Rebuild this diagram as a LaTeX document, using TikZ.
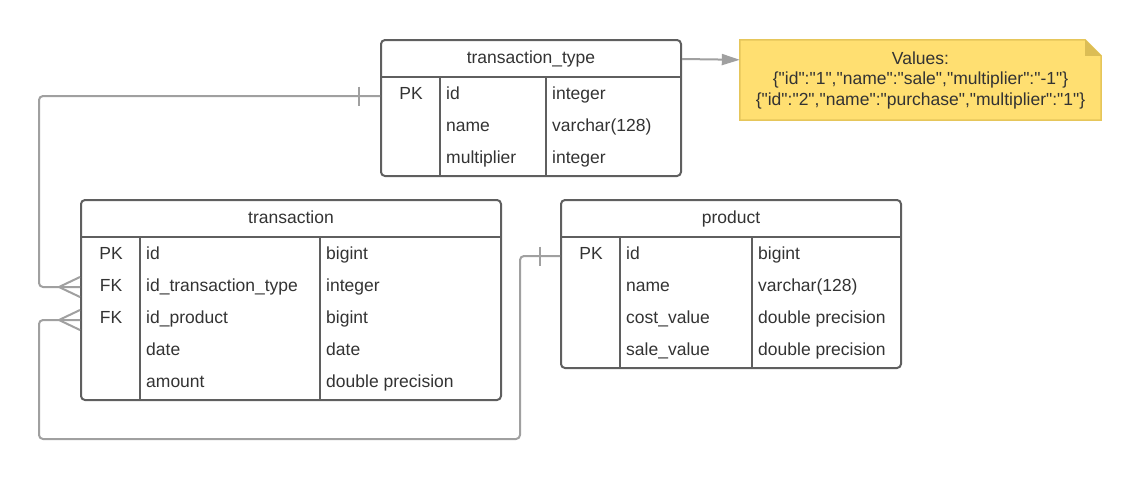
\documentclass[tikz,border=0pt]{standalone}
\usepackage{fontspec}
\setmainfont{Liberation Sans}
\newfontfamily\jsonfont{Liberation Sans}
\usetikzlibrary{calc, positioning, arrows.meta, backgrounds}

\definecolor{tableline}{HTML}{5F5F5F}
\definecolor{linkline}{HTML}{A0A0A0}
\definecolor{notefill}{HTML}{FFDF71}
\definecolor{noteline}{HTML}{E6C65A}
\definecolor{notefold}{HTML}{DCBD55}
\definecolor{celltext}{HTML}{333333}

\tikzset{
  entity/.style={draw=tableline, line width=2pt, rounded corners=4pt, inner sep=0pt},
  rule/.style={draw=tableline, line width=2pt},
  cell/.style={text=celltext, font=\fontsize{17.5}{20.5}\selectfont, inner sep=0pt,
    text height=12.5pt, text depth=3.5pt, anchor=west},
  key/.style={cell, anchor=center},
  link/.style={draw=linkline, line width=2pt},
  notebox/.style={text=celltext, font=\jsonfont\fontsize{17.5}{20.5}\selectfont, align=center,
    minimum width=361pt, minimum height=80pt, inner sep=0pt}
}

\begin{document}
\begin{tikzpicture}[x=1pt, y=-1pt]
  \useasboundingbox (0,0) rectangle (1141,480);

  % transaction_type
  \node[entity, minimum width=300pt, minimum height=136pt] (tt) at (531,108) {};
  \draw[rule] ($(tt.north west)+(0,38)$) -- ($(tt.north east)+(0,38)$);
  \foreach \c in {60,166}
    \draw[rule] ($(tt.north west)+(\c,38)$) -- ($(tt.south west)+(\c,0)$);
  \node[key] (tttitle) at ($(tt.north)+(0,20)$) {transaction\_type};
  \node[key] (ttpk) at (411,94.5) {PK};
  \node[cell] (ttid) at (446,94.5) {id};
  \node[cell] (ttidtype) at (552,94.5) {integer};
  \node[cell] (ttname) at (446,126.5) {name};
  \node[cell] (ttnametype) at (552,126.5) {varchar(128)};
  \node[cell] (ttmult) at (446,158.5) {multiplier};
  \node[cell] (ttmulttype) at (552,158.5) {integer};

  % transaction
  \node[entity, minimum width=420pt, minimum height=200pt] (tr) at (291,300) {};
  \draw[rule] ($(tr.north west)+(0,38)$) -- ($(tr.north east)+(0,38)$);
  \foreach \c in {60,240}
    \draw[rule] ($(tr.north west)+(\c,38)$) -- ($(tr.south west)+(\c,0)$);
  \node[key] (trtitle) at ($(tr.north)+(0,20)$) {transaction};
  \node[key] (trpk) at (111,254.5) {PK};
  \node[cell] (trid) at (146,254.5) {id};
  \node[cell] (tridtype) at (326,254.5) {bigint};
  \node[key] (trfk1) at (111,286.5) {FK};
  \node[cell] (trtt) at (146,286.5) {id\_transaction\_type};
  \node[cell] (trtttype) at (326,286.5) {integer};
  \node[key] (trfk2) at (111,318.5) {FK};
  \node[cell] (trprod) at (146,318.5) {id\_product};
  \node[cell] (trprodtype) at (326,318.5) {bigint};
  \node[cell] (trdate) at (146,350.5) {date};
  \node[cell] (trdatetype) at (326,350.5) {date};
  \node[cell] (tramount) at (146,382.5) {amount};
  \node[cell] (tramounttype) at (326,382.5) {double precision};

  % product
  \node[entity, minimum width=340pt, minimum height=168pt] (pr) at (731,284) {};
  \draw[rule] ($(pr.north west)+(0,38)$) -- ($(pr.north east)+(0,38)$);
  \foreach \c in {60,192}
    \draw[rule] ($(pr.north west)+(\c,38)$) -- ($(pr.south west)+(\c,0)$);
  \node[key] (prtitle) at ($(pr.north)+(0,20)$) {product};
  \node[key] (prpk) at (591,254.5) {PK};
  \node[cell] (prid) at (626,254.5) {id};
  \node[cell] (pridtype) at (758,254.5) {bigint};
  \node[cell] (prname) at (626,286.5) {name};
  \node[cell] (prnametype) at (758,286.5) {varchar(128)};
  \node[cell] (prcost) at (626,318.5) {cost\_value};
  \node[cell] (prcosttype) at (758,318.5) {double precision};
  \node[cell] (prsale) at (626,350.5) {sale\_value};
  \node[cell] (prsaletype) at (758,350.5) {double precision};

  % note
  \node[notebox] (note) at (920.5,80) {Values:\\
    \{"id":"1","name":"sale","multiplier":"-1"\}\\
    \{"id":"2","name":"purchase","multiplier":"1"\}};
  \begin{scope}[on background layer]
    \draw[fill=notefill, draw=noteline, line width=1.5pt] (note.north west)
      -- ($(note.north east)+(-16,0)$) -- ($(note.north east)+(0,16)$)
      -- (note.south east) -- (note.south west) -- cycle;
    \fill[notefold] ($(note.north east)+(-16,0)$) -- ($(note.north east)+(-16,16)$)
      -- ($(note.north east)+(0,16)$) -- cycle;
  \end{scope}
  \draw[link, -{Triangle[length=18pt, width=11pt]}] ($(tt.north east)+(0,20)$) -- ($(note.north west)+(0,20)$);

  % relations
  \coordinate (ttlink) at ($(tt.west |- ttpk)+(0,1.5)$);
  \coordinate (prlink) at ($(pr.west |- prpk)+(0,1.5)$);
  \coordinate (trlink1) at ($(tr.west |- trfk1)+(0,0.5)$);
  \coordinate (trlink2) at ($(tr.west |- trfk2)+(0,1.5)$);

  \draw[link, rounded corners=4pt] (ttlink) -- ++(-341,0) |- (trlink1);
  \draw[link] ($(ttlink)+(-21,-9.5)$) -- ++(0,19);
  \draw[link] ($(trlink1)+(0,-10)$) -- ($(trlink1)+(-21,0)$) -- ($(trlink1)+(0,10)$);

  \draw[link, rounded corners=4pt] (prlink) -| ++(-40,183) -| ($(trlink2)+(-41,0)$) -- (trlink2);
  \draw[link] ($(prlink)+(-20,-9.5)$) -- ++(0,19);
  \draw[link] ($(trlink2)+(0,-10)$) -- ($(trlink2)+(-21,0)$) -- ($(trlink2)+(0,10)$);
\end{tikzpicture}
\end{document}
